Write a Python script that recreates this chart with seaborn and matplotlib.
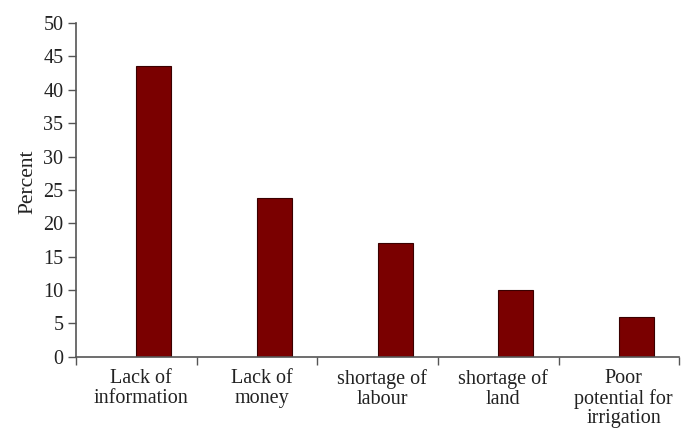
import matplotlib
matplotlib.use("Agg")
import matplotlib.pyplot as plt
import seaborn as sns
import pandas as pd
from matplotlib.ticker import FixedLocator, NullFormatter

categories = ["Lack of\ninformation", "Lack of\nmoney", "shortage of\nlabour",
              "shortage of\nland", "Poor\npotential for\nirrigation"]
values = [43.5, 23.8, 17.1, 10.0, 6.0]
yticks = [0, 5, 10, 15, 20, 25, 30, 35, 40, 45, 50]

sns.set_style("white")
plt.rcParams['font.family'] = ['Liberation Serif', 'DejaVu Serif']

df = pd.DataFrame({"cat": categories, "val": values})

fig = plt.figure(figsize=(6.84, 4.28), dpi=100)
ax = fig.add_axes([0.111, 0.1666, 0.882, 0.7794])

bw = 0.29
sns.barplot(data=df, x="cat", y="val", color="#7a0000", width=bw,
            edgecolor="#3a0000", linewidth=0.8, saturation=1, ax=ax)
for p in ax.patches:
    p.set_x(p.get_x() + bw / 2)

ax.set_xlim(-0.5, len(categories) - 0.5)
ax.set_ylim(0, 50)
ax.set_yticks(yticks)
ax.set_yticklabels([str(t) for t in yticks], fontsize=14.5, color="#222222")

# category boundaries as tick marks, labels at category centres
ax.xaxis.set_major_locator(FixedLocator([i - 0.5 for i in range(len(categories) + 1)]))
ax.xaxis.set_major_formatter(NullFormatter())
ax.xaxis.set_minor_locator(FixedLocator([i + 0.04 for i in range(len(categories))]))
ax.set_xticklabels(categories, minor=True, fontsize=14.5, color="#222222",
                   linespacing=1.04)
ax.tick_params(axis="x", which="major", direction="out", length=5.5, width=1,
               color="#555555", bottom=True)
ax.tick_params(axis="x", which="minor", length=0, pad=9)
ax.tick_params(axis="y", direction="out", length=5.5, width=1, color="#555555",
               left=True, pad=3.5)

ax.set_xlabel("")
ax.set_ylabel("Percent", fontsize=15.5, color="#222222")
ax.yaxis.set_label_coords(-0.064, 0.524)

for s in ["top", "right"]:
    ax.spines[s].set_visible(False)
for s in ["left", "bottom"]:
    ax.spines[s].set_color("#555555")
    ax.spines[s].set_linewidth(1.2)

fig.savefig("out.png", dpi=100)
